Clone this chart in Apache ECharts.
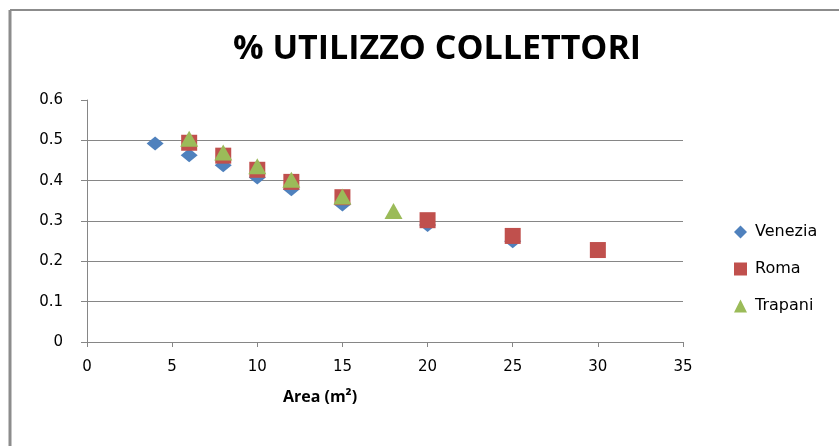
<!DOCTYPE html>
<html>
<head>
<meta charset="utf-8">
<script src="https://cdn.jsdelivr.net/npm/echarts@6/dist/echarts.min.js"></script>
<style>
  html, body { margin: 0; padding: 0; background: #fff; }
  #chart { width: 839px; height: 446px; }
</style>
</head>
<body>
<div id="chart"></div>
<script>
// dati
const seriesNames = ["Venezia", "Roma", "Trapani"];
const veneziaData = [[4, 0.492], [6, 0.463], [8, 0.438], [10, 0.408], [12, 0.379], [15, 0.341], [20, 0.290], [25, 0.250]];
const romaData = [[6, 0.494], [8, 0.462], [10, 0.427], [12, 0.397], [15, 0.359], [20, 0.302], [25, 0.263], [30, 0.228]];
const trapaniData = [[6, 0.504], [8, 0.470], [10, 0.436], [12, 0.402], [15, 0.361], [18, 0.325]];

const chart = echarts.init(document.getElementById("chart"));
const font = "'Open Sans', 'DejaVu Sans', sans-serif";
const labelFont = "'DejaVu Sans', sans-serif";
const gridColor = "#868686";

chart.setOption({
  animation: false,
  color: ["#4f81bd", "#c0504d", "#9bbb59"],
  title: [
    {
      text: "% UTILIZZO COLLETTORI",
      left: 432,
      top: 27,
      textAlign: "center",
      textStyle: { fontFamily: font, fontWeight: "bold", fontSize: 34, color: "#000" },
    },
    {
      text: "Area (m²)",
      left: 315,
      top: 384,
      textAlign: "center",
      textStyle: { fontFamily: font, fontWeight: "bold", fontSize: 16, color: "#000" },
    },
  ],
  legend: {
    orient: "vertical",
    left: 729,
    top: 219,
    itemGap: 21,
    itemWidth: 13,
    itemHeight: 13,
    textStyle: { fontFamily: labelFont, fontSize: 16, color: "#000", padding: [0, 0, 0, 3] },
    data: [
      { name: "Venezia", icon: "diamond" },
      { name: "Roma", icon: "rect" },
      { name: "Trapani", icon: "triangle" },
    ],
  },
  grid: { left: 87, right: 156, top: 100, bottom: 104 },
  xAxis: {
    type: "value",
    min: 0,
    max: 35,
    interval: 5,
    axisLine: { lineStyle: { color: gridColor } },
    axisTick: { show: true, length: 5, lineStyle: { color: gridColor } },
    splitLine: { show: false },
    axisLabel: { fontFamily: labelFont, fontSize: 15, color: "#000", margin: 18 },
  },
  yAxis: {
    type: "value",
    min: 0,
    max: 0.6,
    interval: 0.1,
    axisLine: { show: true, lineStyle: { color: gridColor } },
    axisTick: { show: true, length: 6, lineStyle: { color: gridColor } },
    splitLine: {
      show: true,
      lineStyle: { color: gridColor },
      showMaxLine: false,
    },
    axisLabel: { fontFamily: labelFont, fontSize: 15, color: "#000", margin: 24, formatter: (v) => String(+v.toFixed(1)) },
  },
  graphic: [
    { type: "line", shape: { x1: 10, y1: 10, x2: 839, y2: 10 }, style: { stroke: "#8c8c8c", lineWidth: 2 } },
    { type: "line", shape: { x1: 10, y1: 10, x2: 10, y2: 446 }, style: { stroke: "#8c8c8c", lineWidth: 3 } },
  ],
  series: [
    { name: seriesNames[0], type: "scatter", symbol: "diamond", symbolSize: [17, 14], itemStyle: { opacity: 1 }, data: veneziaData, z: 2 },
    { name: seriesNames[1], type: "scatter", symbol: "rect", symbolSize: 16, itemStyle: { opacity: 1 }, data: romaData, z: 3 },
    { name: seriesNames[2], type: "scatter", symbol: "triangle", symbolSize: [18, 16], itemStyle: { opacity: 1 }, data: trapaniData, z: 4 },
  ],
});
</script>
</body>
</html>
